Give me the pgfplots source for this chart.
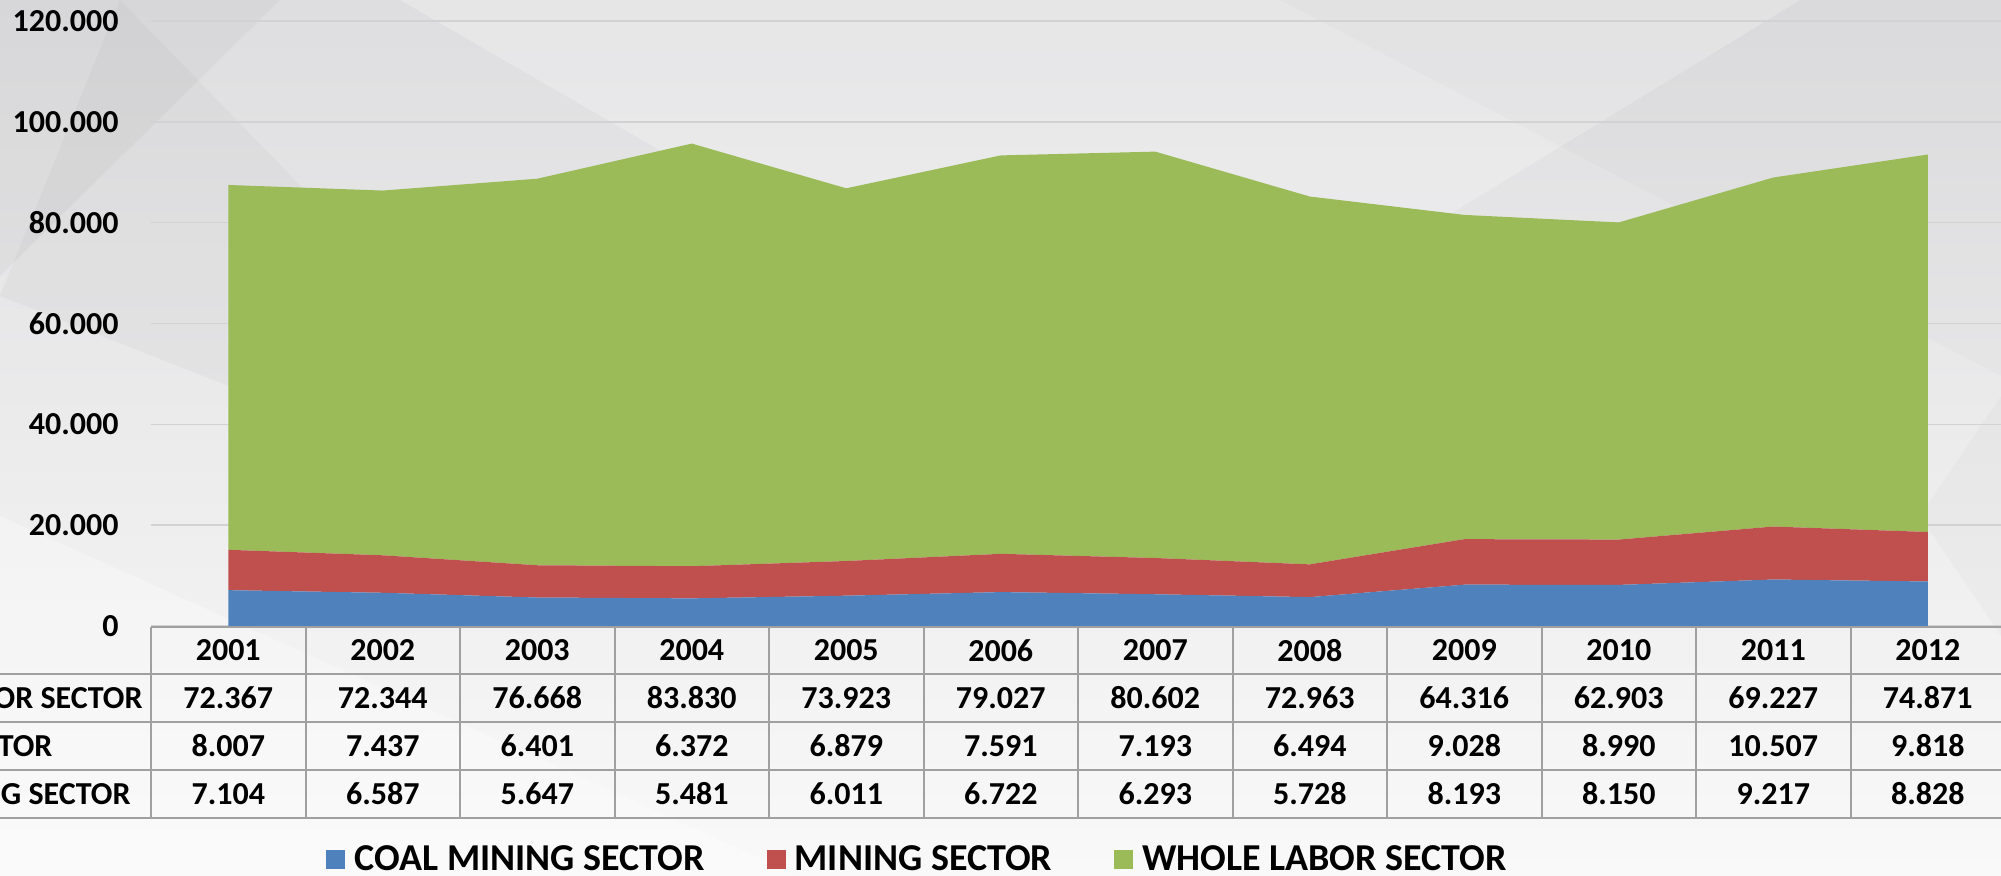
\documentclass[border=0pt]{standalone}
\usepackage{fontspec}
\setmainfont{Carlito}
\usepackage{pgfplots}
\pgfplotsset{compat=1.18}
\usepackage{pgfplotstable}

\definecolor{coal}{HTML}{4F81BD}
\definecolor{mine}{HTML}{C0504D}
\definecolor{whole}{HTML}{9BBB59}
\definecolor{tline}{HTML}{A0A0A0}
\definecolor{gridc}{HTML}{D2D2D4}
\definecolor{bgtop}{HTML}{DEDEE0}
\definecolor{bgmid}{HTML}{E8E8EA}
\definecolor{bgbot}{HTML}{F9F9F9}

\pgfplotstableread{
x coal mining whole
0  7104 8007  72367
1  6587 7437  72344
2  5647 6401  76668
3  5481 6372  83830
4  6011 6879  73923
5  6722 7591  79027
6  6293 7193  80602
7  5728 6494  72963
8  8193 9028  64316
9  8150 8990  62903
10 9217 10507 69227
11 8828 9818  74871
}\data

\begin{document}
\begin{tikzpicture}[tab/.style={font=\bfseries\fontsize{16}{19}\selectfont, inner sep=0pt}]
\useasboundingbox (0,0) rectangle (1000.5pt,438pt);
\clip (0,0) rectangle (1000.5pt,438pt);
% background
\shade[top color=bgtop, middle color=bgmid, bottom color=bgbot] (0,0) rectangle (1000.5pt,438pt);
\fill[gray, opacity=0.07] (0pt,300pt) -- (140pt,438pt) -- (0pt,438pt) -- cycle;
\fill[gray, opacity=0.06] (0pt,290pt) -- (330pt,160pt) -- (60pt,438pt) -- cycle;
\fill[white, opacity=0.25] (200pt,438pt) -- (560pt,230pt) -- (900pt,438pt) -- cycle;
\fill[gray, opacity=0.035] (640pt,438pt) -- (1000.5pt,250pt) -- (1000.5pt,438pt) -- cycle;
\fill[white, opacity=0.3] (0pt,0pt) -- (400pt,0pt) -- (0pt,180pt) -- cycle;
\fill[gray, opacity=0.04] (960pt,180pt) -- (1000.5pt,120pt) -- (1000.5pt,240pt) -- cycle;

\begin{axis}[
  at={(75.5pt,125pt)}, anchor=south west,
  scale only axis, width=927pt, height=302.5pt,
  xmin=-0.5, xmax=11.5, ymin=0, ymax=120000,
  stack plots=y,
  axis line style={draw=none},
  xtick=\empty,
  ytick={0,20000,40000,60000,80000,100000,120000},
  yticklabels={0,20.000,40.000,60.000,80.000,100.000,120.000},
  scaled y ticks=false,
  major tick length=0pt,
  ymajorgrids,
  grid style={gridc, line width=0.8pt},
  yticklabel style={font=\bfseries\fontsize{16}{19}\selectfont, inner sep=0pt, anchor=east, xshift=-16pt},
  legend columns=3,
  legend style={at={(0.414,-0.386)}, anchor=center, draw=none, fill=none,
    font=\bfseries\fontsize{19}{22}\selectfont,
    /tikz/every odd column/.append style={column sep=2.5pt},
    /tikz/every even column/.append style={column sep=29pt}},
  legend image code/.code={\fill[#1] (0pt,-4.75pt) rectangle (9.5pt,4.75pt);},
]
\addplot[fill=coal, draw=none] table[x=x, y=coal]{\data} \closedcycle;
\addlegendentry{COAL MINING SECTOR}
\addplot[fill=mine, draw=none] table[x=x, y=mining]{\data} \closedcycle;
\addlegendentry{MINING SECTOR}
\addplot[fill=whole, draw=none] table[x=x, y=whole]{\data} \closedcycle;
\addlegendentry{WHOLE LABOR SECTOR}
\end{axis}

% data table
\draw[tline, line width=1pt] (75.5pt,124.5pt) -- (1003pt,124.5pt);
\foreach \yy in {101,77,53,29} \draw[tline, line width=1pt] (-2pt,\yy pt) -- (1003pt,\yy pt);
\foreach \k in {0,...,12} \draw[tline, line width=1pt] ({(75.5+\k*77.25)*1pt},124.5pt) -- ({(75.5+\k*77.25)*1pt},29pt);
\foreach \v [count=\i from 0] in {2001,2002,2003,2004,2005,2006,2007,2008,2009,2010,2011,2012}
  \node[tab] at ({(75.5+(\i+0.5)*77.25)*1pt},112.75pt) {\v};
\foreach \v [count=\i from 0] in {72.367,72.344,76.668,83.830,73.923,79.027,80.602,72.963,64.316,62.903,69.227,74.871}
  \node[tab] at ({(75.5+(\i+0.5)*77.25)*1pt},89pt) {\v};
\foreach \v [count=\i from 0] in {8.007,7.437,6.401,6.372,6.879,7.591,7.193,6.494,9.028,8.990,10.507,9.818}
  \node[tab] at ({(75.5+(\i+0.5)*77.25)*1pt},65pt) {\v};
\foreach \v [count=\i from 0] in {7.104,6.587,5.647,5.481,6.011,6.722,6.293,5.728,8.193,8.150,9.217,8.828}
  \node[tab] at ({(75.5+(\i+0.5)*77.25)*1pt},41pt) {\v};
\node[tab, anchor=east] (wl) at (71.5pt,89pt) {WHOLE LABOR SECTOR};
\node[tab, anchor=west] at (wl.west |- 0,65pt) {MINING SECTOR};
\node[tab, anchor=west] at (wl.west |- 0,41pt) {COAL MINING SECTOR};
\end{tikzpicture}
\end{document}
